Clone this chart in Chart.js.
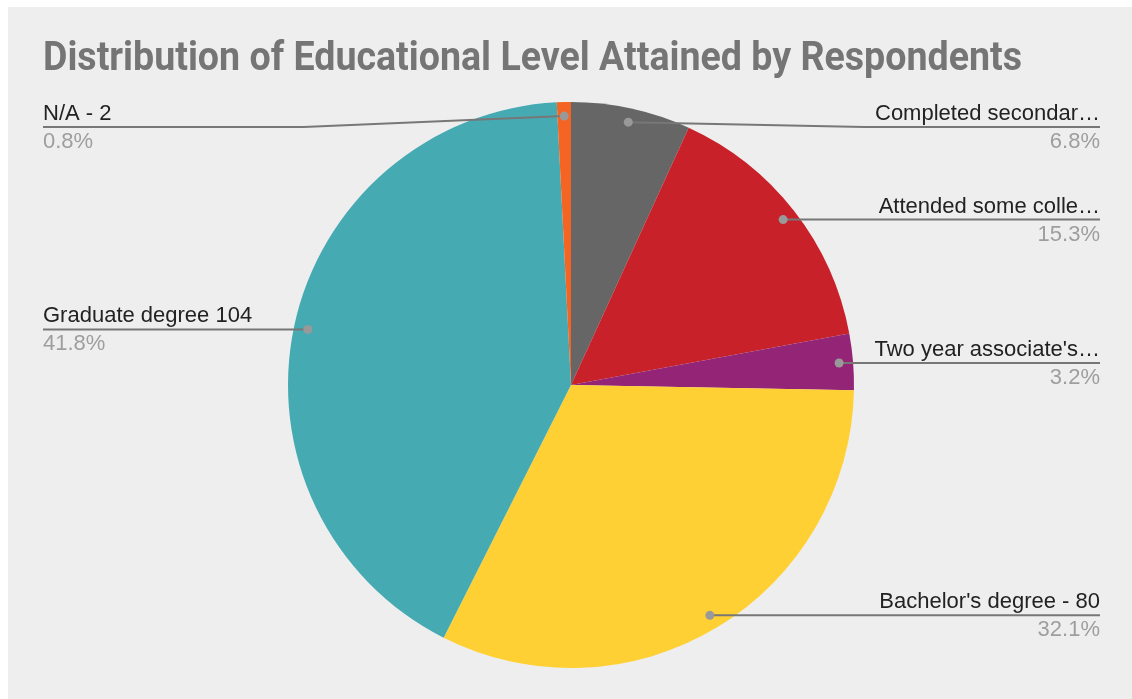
<!DOCTYPE html>
<html>
<head>
<meta charset="utf-8">
<script src="https://cdn.jsdelivr.net/npm/chart.js@4/dist/chart.umd.min.js"></script>
<style>
body{margin:0;background:#fff;}
#box{position:absolute;left:8px;top:7px;width:1124px;height:692px;background:#eeeeee;}
</style>
</head>
<body>
<div id="box"><canvas id="pie"></canvas></div>
<script>
var chartTitle = "Distribution of Educational Level Attained by Respondents";
var categories = ["Completed secondar\u2026", "Attended some colle\u2026", "Two year associate's\u2026", "Bachelor's degree - 80", "Graduate degree 104", "N/A - 2"];
var counts = [17, 38, 8, 80, 104, 2];
var colors = ["#666666", "#c8212a", "#942576", "#ffd034", "#46aab3", "#f46524"];

var total = counts.reduce(function(a,b){return a+b;},0);

// title, squeezed a bit like the sheets one
var titlePlugin = {
  id: 'sheetTitle',
  afterDraw: function(chart){
    var ctx = chart.ctx;
    ctx.save();
    ctx.font = "bold 40px Roboto";
    ctx.fillStyle = "#757575";
    ctx.textBaseline = "alphabetic";
    var w = ctx.measureText(chartTitle).width;
    ctx.translate(35, 63);
    ctx.scale(979 / w, 1);
    ctx.fillText(chartTitle, 0, 0);
    ctx.restore();
  }
};

// leader lines + labels outside the pie
var labelPlugin = {
  id: 'sideLabels',
  afterDraw: function(chart){
    var ctx = chart.ctx;
    var arcs = chart.getDatasetMeta(0).data;
    var leftX = 35, rightX = 1092, topY = 120;
    ctx.save();
    arcs.forEach(function(arc, i){
      var p = arc.getProps(['x','y','startAngle','endAngle','outerRadius']);
      var mid = (p.startAngle + p.endAngle) / 2;
      var rr = p.outerRadius - 14;
      var dx = p.x + Math.cos(mid) * rr;
      var dy = p.y + Math.sin(mid) * rr;
      var left = dx < p.x;
      var edge = left ? leftX : rightX;
      var ly = Math.max(dy, topY);

      ctx.strokeStyle = "#777777";
      ctx.lineWidth = 2;
      ctx.beginPath();
      ctx.moveTo(dx, dy);
      if (ly != dy) {
        var bx = dx + (edge - dx) / 2;
        ctx.lineTo(bx, ly);
      }
      ctx.lineTo(edge, ly);
      ctx.stroke();

      ctx.fillStyle = "#999999";
      ctx.beginPath();
      ctx.arc(dx, dy, 4.5, 0, Math.PI * 2);
      ctx.fill();

      ctx.textAlign = left ? "left" : "right";
      ctx.textBaseline = "alphabetic";
      ctx.font = "22px 'Liberation Sans', Arial";
      ctx.fillStyle = "#222222";
      ctx.fillText(categories[i], edge, ly - 7);
      var pct = (counts[i] / total * 100).toFixed(1) + "%";
      ctx.fillStyle = "#9e9e9e";
      ctx.fillText(pct, edge, ly + 21);
    });
    ctx.restore();
  }
};

var data = {
  labels: categories,
  datasets: [{
    data: counts,
    backgroundColor: colors,
    borderWidth: 0
  }]
};

var options = {
  responsive: true,
  maintainAspectRatio: false,
  animation: false,
  layout: {
    padding: {top: 95, bottom: 31, left: 2, right: 0}
  },
  plugins: {
    legend: {display: false},
    title: {display: false},
    tooltip: {enabled: false}
  }
};

var c = document.getElementById("pie");
var pieChart = new Chart(c.getContext('2d'), {
  type: 'pie',
  data: data,
  options: options,
  plugins: [titlePlugin, labelPlugin]
});
</script>
</body>
</html>
